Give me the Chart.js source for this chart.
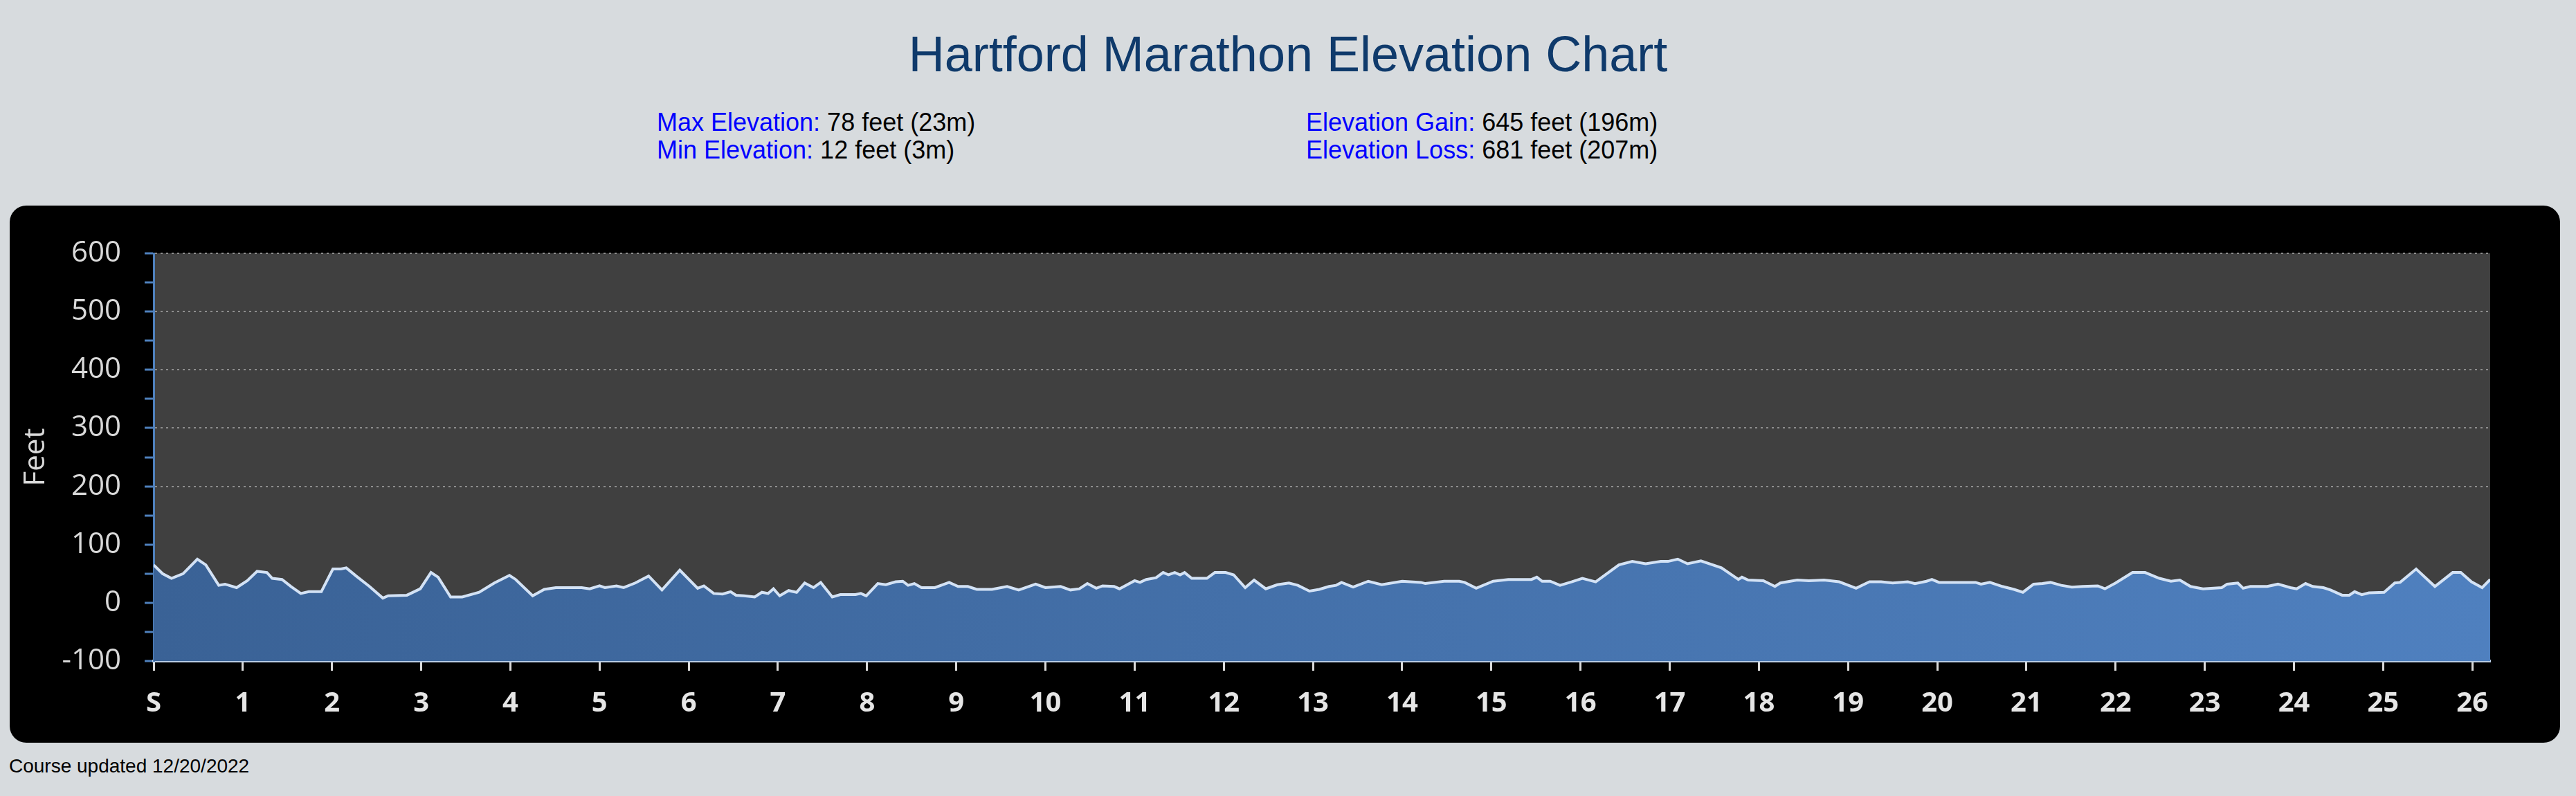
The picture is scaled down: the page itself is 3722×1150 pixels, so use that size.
<!DOCTYPE html>
<html>
<head>
<meta charset="utf-8">
<title>Hartford Marathon Elevation Chart</title>
<script src="https://cdn.jsdelivr.net/npm/chart.js@4.4.1/dist/chart.umd.min.js"></script>
<style>
  body { margin: 0; width: 3722px; height: 1150px; overflow: hidden; position: relative;
         background: #d7dbde; font-family: "Liberation Sans", Arial, sans-serif; }
  #titulo { position: absolute; left: 0; top: 42px; width: 3722px; text-align: center;
            font-size: 72px; line-height: 72px; color: #0f3a6b; }
  .stats { position: absolute; top: 157px; font-size: 36px; line-height: 40px; color: #000; }
  .stats span { color: #0000ff; }
  #chartBox { position: absolute; left: 14px; top: 297px; width: 3685px; height: 776px;
              background: #000; border-radius: 24px; }
  #footer { position: absolute; left: 13px; top: 1093px; font-size: 28px; line-height: 28px; color: #000; }
</style>
</head>
<body>
<div id="titulo">Hartford Marathon Elevation Chart</div>
<div class="stats" style="left:949px">
  <div><span>Max Elevation:</span> 78 feet (23m)</div>
  <div><span>Min Elevation:</span> 12 feet (3m)</div>
</div>
<div class="stats" style="left:1887px">
  <div><span>Elevation Gain:</span> 645 feet (196m)</div>
  <div><span>Elevation Loss:</span> 681 feet (207m)</div>
</div>
<div id="chartBox"><canvas id="chartElev"></canvas></div>
<div id="footer">Course updated 12/20/2022</div>

<script>
// distance along the course (miles) and elevation (feet)
const miles = [0,0.1,0.2,0.33,0.49,0.585,0.73,0.8,0.93,1.05,1.16,1.27,1.33,1.44,1.54,1.65,1.74,1.88,
  2.01,2.1,2.16,2.27,2.42,2.57,2.63,2.84,2.99,3.11,3.19,3.33,3.46,3.65,3.82,3.99,4.06,4.25,4.38,4.51,
  4.59,4.8,4.89,5.0,5.06,5.19,5.27,5.4,5.55,5.7,5.9,6.1,6.17,6.28,6.38,6.47,6.53,6.62,
  6.74,6.82,6.89,6.95,7.02,7.12,7.21,7.3,7.4,7.48,7.61,7.7,7.87,7.93,7.99,8.12,8.21,8.32,8.4,8.46,
  8.53,8.61,8.76,8.92,9.02,9.13,9.23,9.4,9.57,9.7,9.89,10.0,10.17,10.28,10.38,10.47,10.57,10.64,
  10.77,10.83,11.0,11.06,11.13,11.24,11.32,11.38,11.45,11.51,11.56,11.64,11.81,11.9,12.02,12.11,
  12.24,12.34,12.47,12.6,12.73,12.83,12.96,13.07,13.18,
  13.26,13.32,13.45,13.62,13.77,14.0,14.21,14.26,14.47,14.64,14.7,14.83,15.02,15.19,15.45,15.51,
  15.57,15.66,15.77,15.9,16.02,16.17,16.43,16.58,16.73,16.9,16.98,17.09,17.2,17.35,17.58,17.77,
  17.81,17.88,18.05,18.18,18.24,18.43,18.56,18.73,18.9,19.09,19.24,19.37,19.5,19.67,19.75,19.88,
  19.94,20.02,20.43,20.49,20.59,20.73,20.86,20.96,21.08,21.18,21.27,21.39,21.51,21.63,21.8,21.88,
  22.0,22.19,22.33,22.49,22.62,22.72,22.84,22.98,23.19,23.25,23.37,23.43,23.51,23.7,23.82,23.96,
  24.03,24.13,24.21,24.33,24.41,24.54,24.62,24.68,24.76,24.84,25.01,25.13,25.19,25.37,25.58,25.78,
  25.87,25.99,26.11,26.2];

const elevationFt = [65,50,42,50,75,65,30,32,26,38,54,52,42,40,28,16,19,19,
  58,58,60,46,28,8,12,13,24,52,44,10,10,18,34,47,40,12,23,26,
  26,26,24,29,26,29,26,34,46,22,56,25,29,16,15,19,13,12,
  10,18,16,24,12,21,18,34,26,35,10,14,14,16,12,33,31,36,37,30,
  33,26,26,35,28,28,23,23,28,22,32,26,28,22,24,33,25,29,
  28,24,38,35,40,43,52,48,52,48,52,42,42,52,52,48,
  26,39,24,31,34,30,20,23,28,
  30,35,27,37,31,37,35,33,37,37,35,25,37,40,40,44,
  37,37,30,36,42,36,65,71,67,71,71,75,67,72,60,40,
  44,39,38,28,34,39,38,39,36,25,36,36,34,36,33,37,
  40,35,35,32,35,28,23,18,32,33,35,30,27,28,29,24,
  34,52,52,42,37,39,28,24,26,32,34,25,28,28,32,26,
  24,33,28,26,22,13,13,19,14,17,18,34,35,58,28,52,
  52,36,26,40];

const startLabel = "S";
const yMin = -100, yMax = 600;
const courseLength = 26.2;

const puntos = miles.map((m, i) => ({ x: m, y: elevationFt[i] }));

// dark gray plot background
const fondoArea = {
  id: "fondoArea",
  beforeDraw(chart) {
    const { ctx, chartArea } = chart;
    ctx.save();
    ctx.fillStyle = "#404040";
    ctx.fillRect(chartArea.left, chartArea.top, chartArea.right - chartArea.left, chartArea.bottom - chartArea.top);
    ctx.restore();
  }
};

function rellenoAzul(c) {
  const { ctx, chartArea } = c.chart;
  if (!chartArea) return "#4672ad";
  const g = ctx.createLinearGradient(chartArea.left, 0, chartArea.right, 0);
  g.addColorStop(0, "#3a6296");
  g.addColorStop(1, "#4f80bf");
  return g;
}

const ctxElev = document.getElementById("chartElev").getContext("2d");
new Chart(ctxElev, {
  type: "line",
  data: {
    datasets: [{
      data: puntos,
      borderColor: "#d3e2f5",
      borderWidth: 4,
      backgroundColor: rellenoAzul,
      fill: "start",
      pointRadius: 0,
      tension: 0
    }]
  },
  options: {
    responsive: true,
    maintainAspectRatio: false,
    animation: false,
    devicePixelRatio: 1,
    layout: { padding: { top: 69, right: 101, left: 0, bottom: 0 } },
    plugins: { legend: { display: false }, tooltip: { enabled: false } },
    scales: {
      x: {
        type: "linear",
        min: 0,
        max: courseLength,
        afterFit: s => { s.height = 118; },
        grid: { drawOnChartArea: false, tickLength: 14, tickColor: "#d9d9d9", tickWidth: 3 },
        border: { color: "#b8cce4", width: 4 },
        ticks: {
          stepSize: 1,
          includeBounds: false,
          autoSkip: false,
          maxRotation: 0,
          padding: 24,
          color: "#e6e6e6",
          font: { family: "Open Sans", size: 40, weight: "bold" },
          callback: v => v === 0 ? startLabel : v
        }
      },
      y: {
        min: yMin,
        max: yMax,
        afterFit: s => { s.width = 208; },
        grid: {
          lineWidth: 2,
          color: c => (c.tick && c.tick.value >= 200 && c.tick.value % 100 === 0) ? "#8e8e8e" : "rgba(0,0,0,0)",
          tickLength: 13,
          tickColor: "#4f81bd",
          tickWidth: 3
        },
        border: { color: "#4f81bd", width: 3, dash: [3, 5] },
        title: {
          display: true,
          text: "Feet",
          color: "#d9d9d9",
          font: { family: "Open Sans", size: 42 },
          padding: { top: 13, bottom: 0 }
        },
        ticks: {
          stepSize: 50,
          autoSkip: false,
          padding: 34,
          color: "#d9d9d9",
          font: { family: "Open Sans", size: 42 },
          callback: v => v % 100 === 0 ? v : ""
        }
      }
    }
  },
  plugins: [fondoArea]
});
</script>
</body>
</html>
